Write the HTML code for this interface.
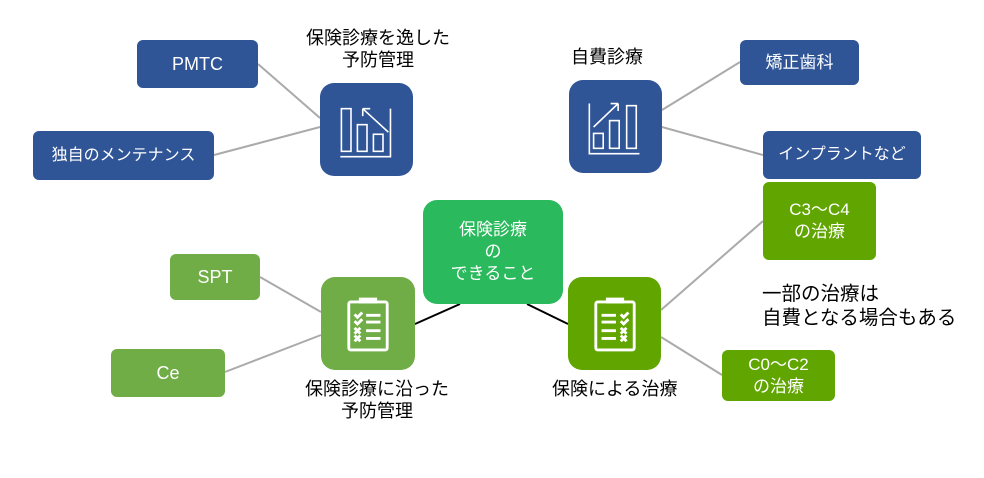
<!DOCTYPE html>
<html><head><meta charset="utf-8"><style>
body{margin:0;width:984px;height:478px;background:#fff;position:relative;overflow:hidden;font-family:"Liberation Sans","Noto Sans CJK JP",sans-serif}
.b{position:absolute;display:flex;align-items:center;justify-content:center;text-align:center;color:#fff;font-size:16px;line-height:22px;border-radius:6px}
.t{position:absolute;font-size:18px;line-height:22px;color:#000;white-space:nowrap}
.n{position:absolute;border-radius:14px;display:flex;align-items:center;justify-content:center}
</style></head><body>
<svg width="984" height="478" style="position:absolute;left:0;top:0">
<g stroke="#aaa" stroke-width="2">
<line x1="258" y1="64" x2="320" y2="118"/><line x1="214" y1="155" x2="320" y2="127"/>
<line x1="740" y1="62" x2="662" y2="110"/><line x1="763" y1="155" x2="662" y2="127"/>
<line x1="763" y1="221" x2="661" y2="310"/><line x1="722" y1="375" x2="661" y2="337"/>
<line x1="260" y1="277" x2="321" y2="312"/><line x1="225" y1="372" x2="321" y2="335"/>
</g>
<g stroke="#000" stroke-width="2"><line x1="415" y1="324" x2="460" y2="304"/><line x1="527" y1="304" x2="568" y2="324"/></g>
</svg>
<div class="b" style="left:137px;top:40px;width:121px;height:48px;background:#2f5597;font-size:18px">PMTC</div>
<div class="b" style="left:33px;top:131px;width:181px;height:49px;background:#2f5597">独自のメンテナンス</div>
<div class="b" style="left:740px;top:40px;width:119px;height:45px;background:#2f5597;font-size:17px">矯正歯科</div>
<div class="b" style="left:763px;top:131px;width:158px;height:48px;background:#2f5597">インプラントなど</div>
<div class="b" style="left:763px;top:182px;width:113px;height:78px;background:#60a500;font-size:17px">C3～C4<br>の治療</div>
<div class="b" style="left:722px;top:350px;width:113px;height:51px;background:#60a500;font-size:17px">C0～C2<br>の治療</div>
<div class="b" style="left:170px;top:254px;width:90px;height:46px;background:#70ad47;font-size:18px">SPT</div>
<div class="b" style="left:111px;top:349px;width:114px;height:48px;background:#70ad47;font-size:18px">Ce</div>
<div class="b" style="left:423px;top:200px;width:140px;height:104px;background:#2ab95c;border-radius:14px;font-size:17px">保険診療<br>の<br>できること</div>
<div class="n" style="left:320px;top:83px;width:93px;height:93px;background:#2f5597">
<svg width="64" height="64" viewBox="0 0 60 60" fill="none" stroke="#fff" stroke-width="1.5"><rect x="6" y="10" width="9" height="40"/><rect x="21" y="25" width="9" height="25"/><rect x="36" y="34" width="9" height="16"/><path d="M5 55H52V10"/><path d="M50 32L26 10M26 10v7M26 10h7"/></svg></div>
<div class="n" style="left:569px;top:80px;width:93px;height:93px;background:#2f5597">
<svg width="64" height="64" viewBox="0 0 60 60" fill="none" stroke="#fff" stroke-width="1.5"><rect x="9" y="36" width="9" height="14"/><rect x="24" y="24" width="9" height="26"/><rect x="40" y="10" width="9" height="40"/><path d="M5 8V55H52"/><path d="M9 30L32 8M32 8h-7M32 8v7"/></svg></div>
<div class="n" style="left:321px;top:277px;width:94px;height:93px;background:#70ad47">
<svg width="48" height="60" viewBox="0 0 50 60" fill="none" stroke="#fff" stroke-width="3"><rect x="5" y="7" width="40" height="50" rx="2"/><path d="M17 7v-3h16v3z" fill="#fff"/><path d="M11 20l3 3 5-5M11 27l3 3 5-5M11 34l6 6M17 34l-6 6M11 42l6 6M17 42l-6 6M23 21h15M23 28h15M23 37h15M23 45h15"/></svg></div>
<div class="n" style="left:568px;top:277px;width:93px;height:93px;background:#60a500">
<svg width="48" height="60" viewBox="0 0 50 60" fill="none" stroke="#fff" stroke-width="3"><rect x="5" y="7" width="40" height="50" rx="2"/><path d="M17 7v-3h16v3z" fill="#fff"/><path d="M31 20l3 3 5-5M31 27l3 3 5-5M31 34l6 6M37 34l-6 6M31 42l6 6M37 42l-6 6M11 21h15M11 28h15M11 37h15M11 45h15"/></svg></div>
<div class="t" style="left:306px;top:27px;text-align:center">保険診療を逸した<br>予防管理</div>
<div class="t" style="left:571px;top:46px">自費診療</div>
<div class="t" style="left:305px;top:378px;text-align:center">保険診療に沿った<br>予防管理</div>
<div class="t" style="left:552px;top:378px">保険による治療</div>
<div class="t" style="left:762px;top:282px;font-size:19.5px;line-height:24px">一部の治療は<br>自費となる場合もある</div>
</body></html>
